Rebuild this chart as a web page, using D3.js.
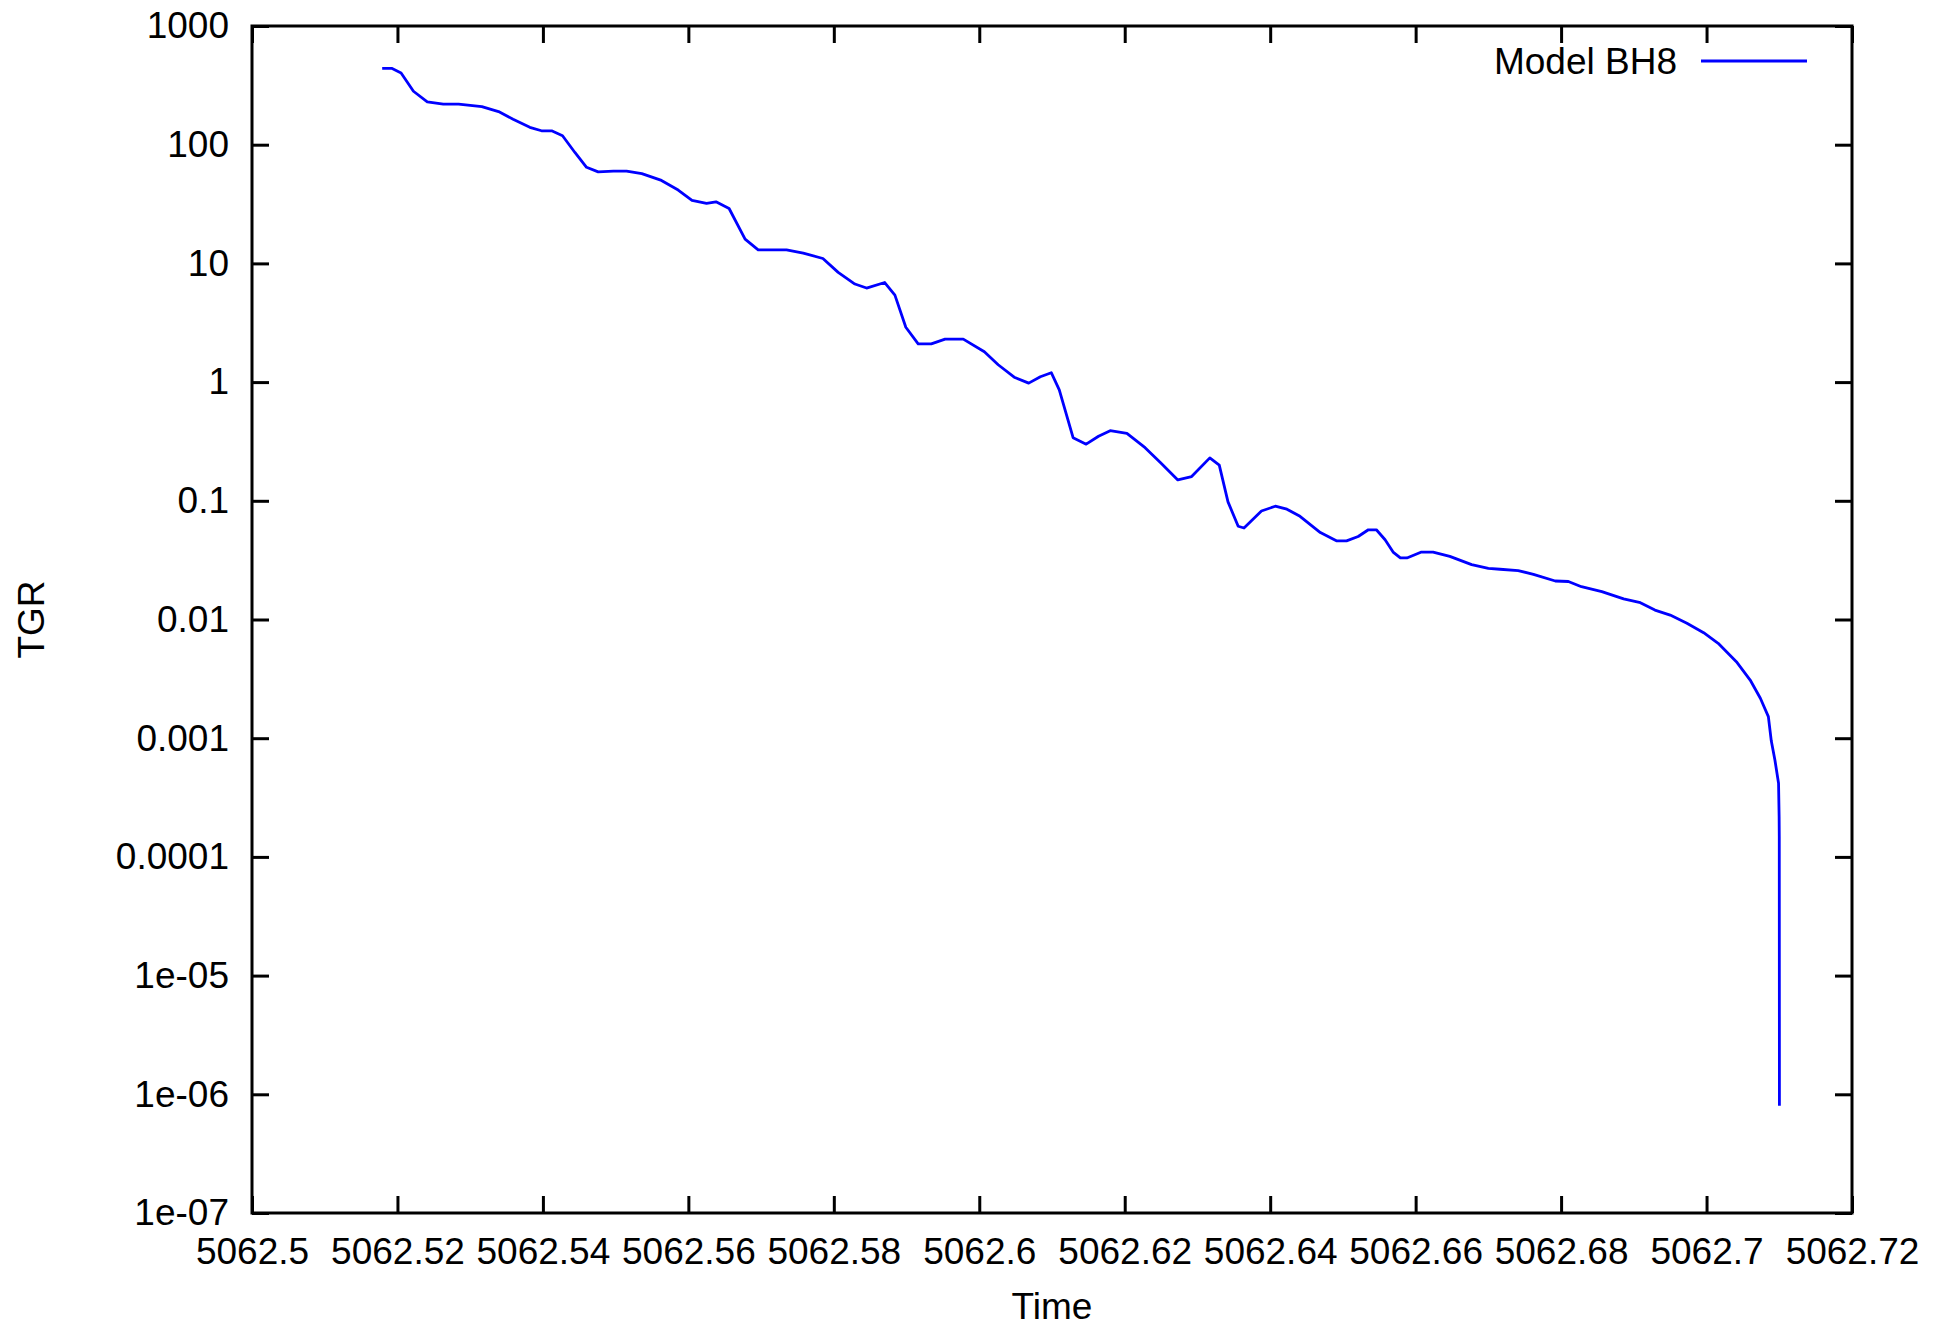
<!DOCTYPE html>
<html>
<head>
<meta charset="utf-8">
<script src="https://cdn.jsdelivr.net/npm/d3@7"></script>
<style>
body{margin:0;background:#fff;}
svg text{font-family:"Liberation Sans",Arial,sans-serif;}
</style>
</head>
<body>
<div id="container"></div>
<script>
///data
const seriesName = "Model BH8";
const time = [
5062.5179, 5062.5192, 5062.5205, 5062.5222, 5062.5241, 5062.5263, 5062.5284, 5062.5316,
5062.5339, 5062.5359, 5062.5382, 5062.5398, 5062.5412, 5062.5427, 5062.5444, 5062.5460,
5062.5476, 5062.5497, 5062.5515, 5062.5536, 5062.5563, 5062.5586, 5062.5605, 5062.5625,
5062.5638, 5062.5656, 5062.5678, 5062.5696, 5062.5735, 5062.5758, 5062.5785, 5062.5806,
5062.5829, 5062.5845, 5062.5870, 5062.5884, 5062.5899, 5062.5916, 5062.5934, 5062.5953,
5062.5978, 5062.6007, 5062.6026, 5062.6048, 5062.6068, 5062.6084, 5062.6099, 5062.6110,
5062.6129, 5062.6147, 5062.6164, 5062.6180, 5062.6203, 5062.6228, 5062.6249, 5062.6273,
5062.6292, 5062.6317, 5062.6330, 5062.6342, 5062.6356, 5062.6364, 5062.6388, 5062.6407,
5062.6423, 5062.6441, 5062.6469, 5062.6491, 5062.6505, 5062.6521, 5062.6535, 5062.6546,
5062.6558, 5062.6569, 5062.6579, 5062.6588, 5062.6608, 5062.6624, 5062.6647, 5062.6677,
5062.6700, 5062.6716, 5062.6741, 5062.6762, 5062.6792, 5062.6810, 5062.6828, 5062.6856,
5062.6886, 5062.6909, 5062.6929, 5062.6950, 5062.6973, 5062.6996, 5062.7016, 5062.7041,
5062.7060, 5062.7074, 5062.7085, 5062.7089, 5062.7094, 5062.7099, 5062.70998, 5062.71, 5062.71002];
const tgr = [
440, 440, 402, 282, 230, 220, 220, 209,
190, 164, 140, 131, 131, 119, 86, 64.5,
59, 60, 60, 57, 50, 41.5, 34, 32,
33, 29, 16, 13, 13, 12.2, 11, 8.4,
6.7, 6.2, 6.9, 5.4, 2.9, 2.1, 2.1, 2.3,
2.3, 1.8, 1.4, 1.1, 0.98, 1.11, 1.2, 0.86,
0.34, 0.30, 0.35, 0.39, 0.37, 0.28, 0.21, 0.15,
0.16, 0.23, 0.20, 0.098, 0.061, 0.059, 0.082, 0.090,
0.085, 0.074, 0.054, 0.046, 0.046, 0.050, 0.057, 0.057,
0.047, 0.037, 0.033, 0.033, 0.037, 0.037, 0.034, 0.029,
0.027, 0.0265, 0.0258, 0.024, 0.0211, 0.0209, 0.0189, 0.01715,
0.0149, 0.01385, 0.0120, 0.0109, 0.0093, 0.00774, 0.0063, 0.00441,
0.00309, 0.00217, 0.00152, 0.00095, 0.000655, 0.000417, 0.000218, 0.000148, 8e-7];
const xTicks = [5062.5, 5062.52, 5062.54, 5062.56, 5062.58, 5062.6, 5062.62, 5062.64, 5062.66, 5062.68, 5062.7, 5062.72];
const xTickLabels = ["5062.5", "5062.52", "5062.54", "5062.56", "5062.58", "5062.6", "5062.62", "5062.64", "5062.66", "5062.68", "5062.7", "5062.72"];
const yTicks = [1000, 100, 10, 1, 0.1, 0.01, 0.001, 0.0001, 1e-5, 1e-6, 1e-7];
const yTickLabels = ["1000", "100", "10", "1", "0.1", "0.01", "0.001", "0.0001", "1e-05", "1e-06", "1e-07"];

///vars
let w = 1946,
h = 1328,
pLeft = 252,
pRight = 1852,
pTop = 26,
pBottom = 1213;
const fs = 37,
tick = 17;

///svg
let svg = d3.
select("#container").
append("svg").
attr("width", w).
attr("height", h);

///scales
const x = d3.scaleLinear().domain([5062.5, 5062.72]).range([pLeft, pRight]);
const y = d3.scaleLog().domain([1e-7, 1000]).range([pBottom, pTop]);

///axes
function styleAxis(g) {
  g.select(".domain").remove();
  g.selectAll("line").attr("stroke", "#000").attr("stroke-width", 3);
  g.selectAll("text").attr("fill", "#000").style("font-size", fs + "px");
  g.attr("font-family", null).attr("font-size", null);
}
svg.append("g").
attr("transform", "translate(0," + pBottom + ")").
call(d3.axisBottom(x).tickValues(xTicks).tickFormat((d, i) => xTickLabels[i]).
tickSizeInner(-tick).tickSizeOuter(0).tickPadding(25)).
call(styleAxis);
svg.append("g").
attr("transform", "translate(0," + pTop + ")").
call(d3.axisTop(x).tickValues(xTicks).tickFormat("").tickSizeInner(-tick).tickSizeOuter(0)).
call(styleAxis);
svg.append("g").
attr("transform", "translate(" + pLeft + ",0)").
call(d3.axisLeft(y).tickValues(yTicks).tickFormat((d, i) => yTickLabels[i]).
tickSizeInner(-tick).tickSizeOuter(0).tickPadding(23)).
call(styleAxis);
svg.append("g").
attr("transform", "translate(" + pRight + ",0)").
call(d3.axisRight(y).tickValues(yTicks).tickFormat("").tickSizeInner(-tick).tickSizeOuter(0)).
call(styleAxis);

///border
svg.append("rect").
attr("x", pLeft).
attr("y", pTop).
attr("width", pRight - pLeft).
attr("height", pBottom - pTop).
attr("fill", "none").
attr("stroke", "#000").
attr("stroke-width", 3);

///line
const pts = time.map((t, i) => [t, tgr[i]]);
svg.append("path").
datum(pts).
attr("fill", "none").
attr("stroke", "#0000ff").
attr("stroke-width", 2.8).
attr("stroke-linejoin", "round").
attr("d", d3.line().x(d => x(d[0])).y(d => y(d[1])));

///labels
svg.append("text").
attr("x", (pLeft + pRight) / 2).
attr("y", 1319).
attr("text-anchor", "middle").
style("font-size", fs + "px").
text("Time");
svg.append("text").
attr("transform", "translate(31," + (pTop + pBottom) / 2 + ") rotate(-90)").
attr("text-anchor", "middle").
attr("dominant-baseline", "central").
style("font-size", fs + "px").
text("TGR");

///legend
svg.append("text").
attr("x", 1677).
attr("y", 74).
attr("text-anchor", "end").
style("font-size", fs + "px").
text(seriesName);
svg.append("line").
attr("x1", 1701).
attr("x2", 1807).
attr("y1", 61).
attr("y2", 61).
attr("stroke", "#0000ff").
attr("stroke-width", 2.8);
</script>
</body>
</html>
